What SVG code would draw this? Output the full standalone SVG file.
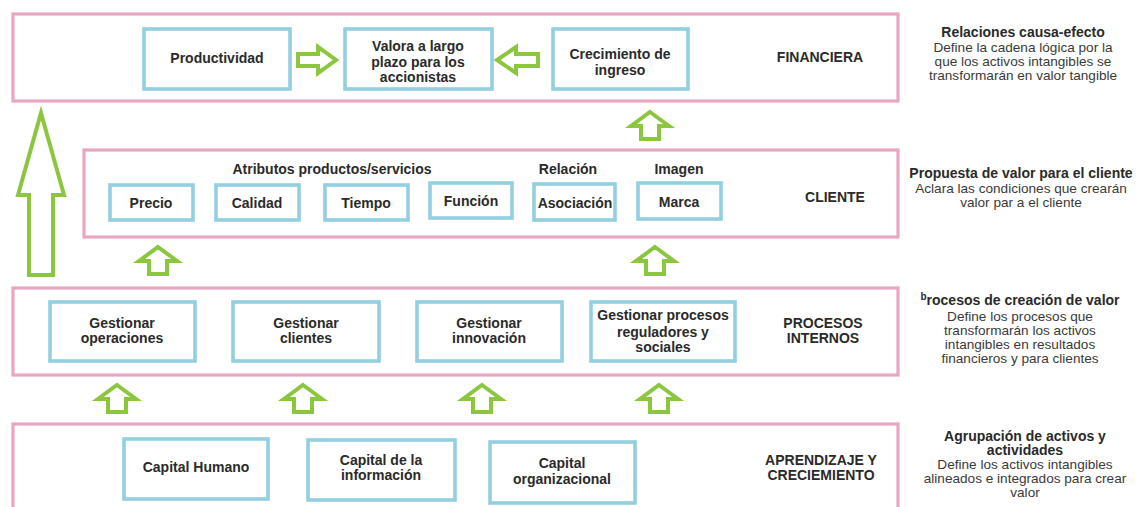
<svg xmlns="http://www.w3.org/2000/svg" xmlns:xlink="http://www.w3.org/1999/xlink" width="1137" height="507" viewBox="0 0 1137 507">
<style>
.band{fill:#fff;stroke:#e9a6c1;stroke-width:3.2}
.box{fill:#fff;stroke:#93cfe0;stroke-width:3.6}
.arr{fill:#fff;stroke:#8cc63f;stroke-width:4;stroke-linejoin:miter}
.t{font-family:"Liberation Sans",Arial,sans-serif;font-size:14px;font-weight:bold;fill:#2a2a2a;text-anchor:middle}
.d{font-family:"Liberation Sans",Arial,sans-serif;font-size:13.6px;fill:#3a3a3a;text-anchor:middle}
</style>
<defs>
<path id="up" d="M0,0 L19,14 L9,14 L9,27 L-9,27 L-9,14 L-19,14 Z"/>
</defs>
<rect width="1137" height="507" fill="#fff"/>

<g id="financiera">
<rect class="band" x="13" y="14" width="885" height="87"/>
<text class="t" x="820" y="62">FINANCIERA</text>
</g>
<g id="cliente">
<rect class="band" x="84" y="150" width="814" height="87"/>
<text class="t" x="835" y="202">CLIENTE</text>
<text class="t" x="332" y="174">Atributos productos/servicios</text>
<text class="t" x="568" y="174">Relación</text>
<text class="t" x="679" y="174">Imagen</text>
</g>
<g id="procesos">
<rect class="band" x="13" y="288" width="885" height="87"/>
<text class="t" x="823" y="328">PROCESOS</text>
<text class="t" x="823" y="343">INTERNOS</text>
</g>
<g id="aprendizaje">
<rect class="band" x="13" y="424" width="885" height="100"/>
<text class="t" x="821" y="465">APRENDIZAJE Y</text>
<text class="t" x="821" y="480">CRECIEMIENTO</text>
</g>

<g id="productividad"><rect class="box" x="144" y="29" width="146" height="60"/><text class="t" x="217" y="63">Productividad</text></g>
<g id="valora"><rect class="box" x="345" y="29" width="147" height="60"/><text class="t" x="418" y="51">Valora a largo</text><text class="t" x="418" y="67">plazo para los</text><text class="t" x="418" y="82">accionistas</text></g>
<g id="crecimiento"><rect class="box" x="553" y="29" width="135" height="60"/><text class="t" x="620" y="59">Crecimiento de</text><text class="t" x="620" y="75">ingreso</text></g>

<g id="precio"><rect class="box" x="110" y="185" width="83" height="35"/><text class="t" x="151" y="208">Precio</text></g>
<g id="calidad"><rect class="box" x="216" y="185" width="83" height="35"/><text class="t" x="257" y="208">Calidad</text></g>
<g id="tiempo"><rect class="box" x="325" y="185" width="83" height="35"/><text class="t" x="366" y="208">Tiempo</text></g>
<g id="funcion"><rect class="box" x="430" y="183" width="82" height="35"/><text class="t" x="471" y="206">Función</text></g>
<g id="asociacion"><rect class="box" x="534" y="184" width="81" height="36"/><text class="t" x="575" y="208">Asociación</text></g>
<g id="marca"><rect class="box" x="638" y="183" width="83" height="36"/><text class="t" x="679" y="207">Marca</text></g>

<g id="gest-op"><rect class="box" x="50" y="302" width="145" height="59"/><text class="t" x="122" y="328">Gestionar</text><text class="t" x="122" y="343">operaciones</text></g>
<g id="gest-cli"><rect class="box" x="233" y="302" width="146" height="59"/><text class="t" x="306" y="328">Gestionar</text><text class="t" x="306" y="343">clientes</text></g>
<g id="gest-inn"><rect class="box" x="417" y="302" width="145" height="59"/><text class="t" x="489" y="328">Gestionar</text><text class="t" x="489" y="343">innovación</text></g>
<g id="gest-reg"><rect class="box" x="591" y="302" width="144" height="59"/><text class="t" x="663" y="320">Gestionar procesos</text><text class="t" x="663" y="337">reguladores y</text><text class="t" x="663" y="352">sociales</text></g>

<g id="cap-hum"><rect class="box" x="124" y="439" width="144" height="60"/><text class="t" x="196" y="472">Capital Humano</text></g>
<g id="cap-inf"><rect class="box" x="308" y="440" width="147" height="60"/><text class="t" x="381" y="465">Capital de la</text><text class="t" x="381" y="480">información</text></g>
<g id="cap-org"><rect class="box" x="490" y="442" width="145" height="61"/><text class="t" x="562" y="468">Capital</text><text class="t" x="562" y="484">organizacional</text></g>

<g id="desc-fin">
<text class="t" x="1023" y="37">Relaciones causa-efecto</text>
<text class="d" x="1023" y="52">Define la cadena lógica por la</text>
<text class="d" x="1023" y="66">que los activos intangibles se</text>
<text class="d" x="1023" y="80">transformarán en valor tangible</text>
</g>
<g id="desc-cli">
<text class="t" x="1021" y="178">Propuesta de valor para el cliente</text>
<text class="d" x="1021" y="193">Aclara las condiciones que crearán</text>
<text class="d" x="1021" y="207">valor par a el cliente</text>
</g>
<g id="desc-pro">
<text class="t" x="1020" y="305"><tspan font-size="10" dy="-5">b</tspan><tspan dy="5">rocesos de creación de valor</tspan></text>
<text class="d" x="1020" y="321">Define los procesos que</text>
<text class="d" x="1020" y="335">transformarán los activos</text>
<text class="d" x="1020" y="349">intangibles en resultados</text>
<text class="d" x="1020" y="363">financieros y para clientes</text>
</g>
<g id="desc-apr">
<text class="t" x="1025" y="441">Agrupación de activos y</text>
<text class="t" x="1025" y="455">actividades</text>
<text class="d" x="1025" y="469">Define los activos intangibles</text>
<text class="d" x="1025" y="483">alineados e integrados para crear</text>
<text class="d" x="1025" y="497">valor</text>
</g>

<g id="connectors">
<path class="arr" d="M41,113 L64,195 L53,195 L53,275 L29,275 L29,195 L18,195 Z"/>
<path class="arr" d="M298,54 L318,54 L318,47 L336,60 L318,73 L318,66 L298,66 Z"/>
<path class="arr" d="M538,54 L516,54 L516,47 L497,60 L516,73 L516,66 L538,66 Z"/>
<use class="arr" href="#up" xlink:href="#up" x="650" y="112"/>
<use class="arr" href="#up" xlink:href="#up" x="158" y="247"/>
<use class="arr" href="#up" xlink:href="#up" x="655" y="247"/>
<use class="arr" href="#up" xlink:href="#up" x="117" y="385"/>
<use class="arr" href="#up" xlink:href="#up" x="303" y="385"/>
<use class="arr" href="#up" xlink:href="#up" x="482" y="385"/>
<use class="arr" href="#up" xlink:href="#up" x="659" y="385"/>
</g>
</svg>
